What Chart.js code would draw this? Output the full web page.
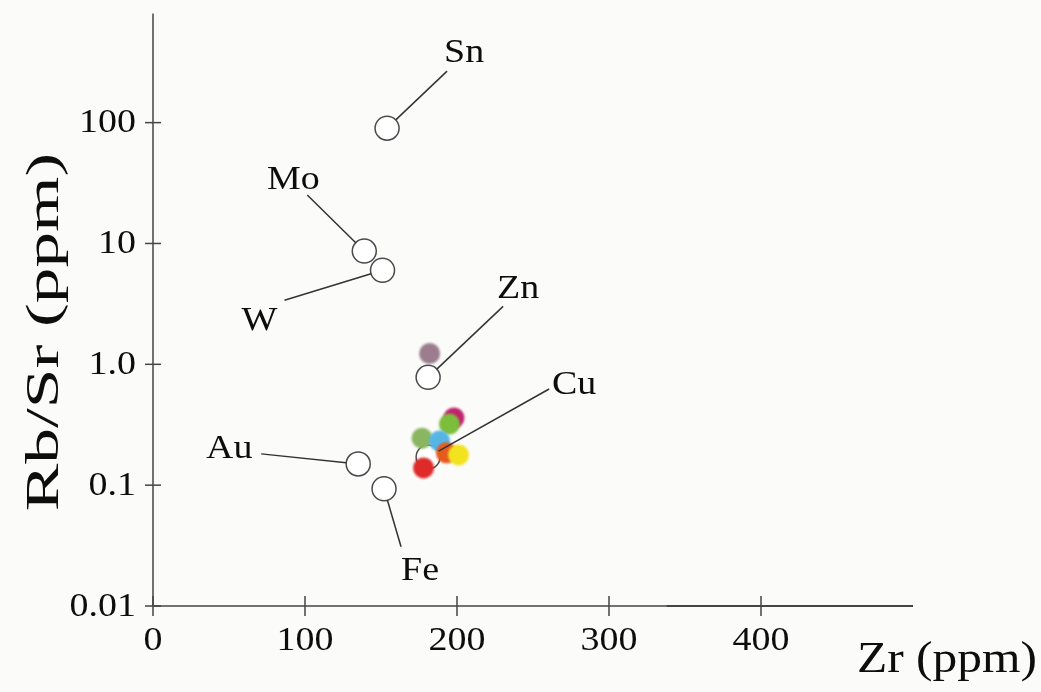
<!DOCTYPE html>
<html>
<head>
<meta charset="utf-8">
<script src="https://cdn.jsdelivr.net/npm/chart.js@4/dist/chart.umd.min.js"></script>
<style>
  html, body { margin: 0; padding: 0; background: #fbfbf9; }
  canvas { display: block; }
</style>
</head>
<body>
<canvas id="c" width="1041" height="692"></canvas>
<script>
// Axis ticks
const xTicks = [0, 100, 200, 300, 400];
const xTickLabels = ['0', '100', '200', '300', '400'];
const yTicks = [0.01, 0.1, 1, 10, 100];
const yTickLabels = ['0.01', '0.1', '1.0', '10', '100'];

// Average compositions of granitoids associated with each deposit type
const depositNames = ['Sn', 'Mo', 'W', 'Zn', 'Cu', 'Au', 'Fe'];
const depositZr = [154, 139, 151, 181, 181, 135, 152];
const depositRbSr = [90, 8.65, 6.0, 0.78, 0.171, 0.150, 0.0935];

// Individual intrusions (coloured symbols)
const sampleZr = [182, 198, 195, 177, 188.5, 193, 201, 178];
const sampleRbSr = [1.23, 0.36, 0.32, 0.245, 0.232, 0.185, 0.178, 0.139];
const sampleColors = ['#9c7d8e', '#c0246e', '#7dbd3c', '#8ab662', '#55b5e5', '#e65a1e', '#f3e21e', '#df2a2a'];

// Leader-line end and label centre, in pixels relative to the symbol
const labelLayout = {
  Sn: { line: [60, -57], text: [77, -76] },
  Mo: { line: [-57, -56], text: [-71, -72] },
  W:  { line: [-98, 30], text: [-123, 50] },
  Zn: { line: [75, -71], text: [90, -89] },
  Cu: { line: [121, -68], text: [146, -73] },
  Au: { line: [-97, -10], text: [-129, -16] },
  Fe: { line: [17, 58], text: [36, 82] }
};

const SERIF = '"Liberation Serif", "Times New Roman", serif';
const INK = '#0d0d0d';
const AXIS = '#454545';
const OPEN_R = 12;

function stretchedText(ctx, text, x, y, size, align, baseline, sx, rot) {
  ctx.save();
  ctx.translate(x, y);
  if (rot) ctx.rotate(rot);
  ctx.scale(sx, 1);
  ctx.font = size + 'px ' + SERIF;
  ctx.fillStyle = INK;
  ctx.textAlign = align;
  ctx.textBaseline = baseline;
  ctx.fillText(text, 0, 0);
  ctx.restore();
}

const paperPlugin = {
  id: 'paper',
  beforeDraw(chart) {
    const ctx = chart.ctx;
    ctx.save();
    ctx.fillStyle = '#fbfbf9';
    ctx.fillRect(0, 0, chart.width, chart.height);
    ctx.restore();
  }
};

const axesPlugin = {
  id: 'axes',
  beforeDatasetsDraw(chart) {
    const ctx = chart.ctx;
    const xs = chart.scales.x, ys = chart.scales.y;
    const a = chart.chartArea;
    const x0 = xs.getPixelForValue(0);
    const y0 = ys.getPixelForValue(0.01);
    ctx.save();
    ctx.strokeStyle = AXIS;
    ctx.lineWidth = 1.5;
    // vertical axis
    ctx.beginPath();
    ctx.moveTo(x0, a.top);
    ctx.lineTo(x0, y0);
    ctx.stroke();
    // horizontal axis
    ctx.beginPath();
    ctx.moveTo(x0, y0);
    ctx.lineTo(xs.getPixelForValue(500), y0);
    ctx.stroke();
    // heavier rule on the right part of the base line
    ctx.lineWidth = 2.2;
    ctx.beginPath();
    ctx.moveTo(xs.getPixelForValue(338), y0);
    ctx.lineTo(xs.getPixelForValue(500), y0);
    ctx.stroke();
    ctx.lineWidth = 1.5;
    // y ticks and labels
    yTicks.forEach((v, i) => {
      const py = ys.getPixelForValue(v);
      ctx.beginPath();
      ctx.moveTo(x0 - 8, py);
      ctx.lineTo(x0 + 8, py);
      ctx.stroke();
      stretchedText(ctx, yTickLabels[i], x0 - 17, py + 1, 33, 'right', 'middle', 1.15);
    });
    // x ticks and labels
    xTicks.forEach((v, i) => {
      const px = xs.getPixelForValue(v);
      ctx.beginPath();
      ctx.moveTo(px, y0 - 10);
      ctx.lineTo(px, y0 + 10);
      ctx.stroke();
      stretchedText(ctx, xTickLabels[i], px, y0 + 35, 33, 'center', 'middle', 1.15);
    });
    ctx.restore();
    // axis titles
    stretchedText(ctx, 'Zr (ppm)', 1037, 672, 45, 'right', 'alphabetic', 1.1);
    stretchedText(ctx, 'Rb/Sr (ppm)', 58, 332, 46, 'center', 'alphabetic', 1.55, -Math.PI / 2);
  }
};

const labelPlugin = {
  id: 'depositLabels',
  afterDatasetsDraw(chart) {
    const ctx = chart.ctx;
    const xs = chart.scales.x, ys = chart.scales.y;
    ctx.save();
    ctx.strokeStyle = '#333333';
    ctx.lineWidth = 1.5;
    depositNames.forEach((name, i) => {
      const px = xs.getPixelForValue(depositZr[i]);
      const py = ys.getPixelForValue(depositRbSr[i]);
      const L = labelLayout[name];
      const ex = px + L.line[0], ey = py + L.line[1];
      const d = Math.hypot(L.line[0], L.line[1]);
      const sx = px + L.line[0] / d * OPEN_R, sy = py + L.line[1] / d * OPEN_R;
      ctx.beginPath();
      ctx.moveTo(sx, sy);
      ctx.lineTo(ex, ey);
      ctx.stroke();
      stretchedText(ctx, name, px + L.text[0], py + L.text[1] + 1, 33, 'center', 'middle', 1.15);
    });
    ctx.restore();
  }
};

// soften the coloured sample symbols
const softPlugin = {
  id: 'soft',
  beforeDatasetDraw(chart, args) {
    if (args.index === 0) {
      chart.ctx.save();
      chart.ctx.filter = 'blur(1.2px)';
    }
  },
  afterDatasetDraw(chart, args) {
    if (args.index === 0) chart.ctx.restore();
  }
};

new Chart(document.getElementById('c'), {
  type: 'scatter',
  data: {
    datasets: [
      {
        label: 'Intrusions',
        data: sampleZr.map((x, i) => ({ x: x, y: sampleRbSr[i] })),
        pointRadius: 10.5,
        pointBorderWidth: 0,
        pointBackgroundColor: sampleColors,
        pointBorderColor: sampleColors
      },
      {
        label: 'Deposit types',
        data: depositZr.map((x, i) => ({ x: x, y: depositRbSr[i] })),
        pointRadius: OPEN_R,
        pointBorderWidth: 1.5,
        pointBackgroundColor: '#ffffff',
        pointBorderColor: '#4a4a4a'
      }
    ]
  },
  options: {
    responsive: false,
    animation: false,
    events: [],
    layout: { padding: { left: 153, right: 128, top: 10, bottom: 86 } },
    plugins: { legend: { display: false }, tooltip: { enabled: false } },
    scales: {
      x: { type: 'linear', min: 0, max: 500, display: false },
      y: { type: 'logarithmic', min: 0.01, max: 800, display: false }
    }
  },
  plugins: [paperPlugin, axesPlugin, softPlugin, labelPlugin]
});
</script>
</body>
</html>
